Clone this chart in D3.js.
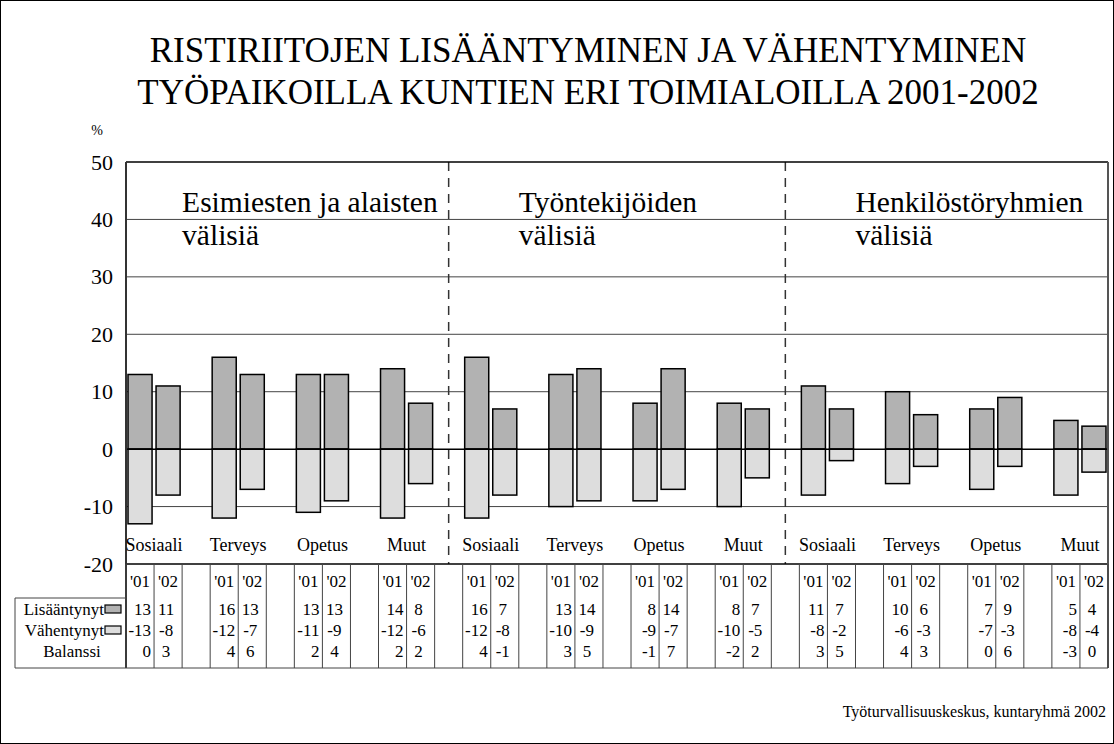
<!DOCTYPE html>
<html>
<head>
<meta charset="utf-8">
<script src="https://cdn.jsdelivr.net/npm/d3@7"></script>
<style>
  body { margin: 0; background: #fff; }
  svg text { font-family: "Liberation Serif", "Times New Roman", serif; fill: #000; }
</style>
</head>
<body>
<svg id="chart" width="1114" height="744"></svg>
<script>
// chart data
const title_lines = ["RISTIRIITOJEN LISÄÄNTYMINEN JA VÄHENTYMINEN", "TYÖPAIKOILLA KUNTIEN ERI TOIMIALOILLA 2001-2002"];
const sections = ["Esimiesten ja alaisten", "Työntekijöiden", "Henkilöstöryhmien"];
const section_sub = "välisiä";
const categories = ["Sosiaali", "Terveys", "Opetus", "Muut"];
const years = ["'01", "'02"];
const row_labels = ["Lisääntynyt", "Vähentynyt", "Balanssi"];
const increased = [13, 11, 16, 13, 13, 13, 14, 8, 16, 7, 13, 14, 8, 14, 8, 7, 11, 7, 10, 6, 7, 9, 5, 4];
const decreased = [-13, -8, -12, -7, -11, -9, -12, -6, -12, -8, -10, -9, -9, -7, -10, -5, -8, -2, -6, -3, -7, -3, -8, -4];
const balance = [0, 3, 4, 6, 2, 4, 2, 2, 4, -1, 3, 5, -1, 7, -2, 2, 3, 5, 4, 3, 0, 6, -3, 0];
const y_ticks = [50, 40, 30, 20, 10, 0, -10, -20];
const source = "Työturvallisuuskeskus, kuntaryhmä 2002";

const dark = "#b2b2b2", light = "#dddddd";

const svg = d3.select("svg#chart");
const W = +svg.attr("width"), H = +svg.attr("height");
const plot = { left: 126, right: 1108, top: 162, bottom: 564 };
const table = { left: 15, header: 598, bottom: 668 };

// 12 groups of 3 columns ('01, '02, gap), last gap dropped
const n_groups = sections.length * categories.length;
const n_cols = n_groups * 3 - 1;
const x = d3.scaleLinear().domain([0, n_cols]).range([plot.left, plot.right]);
const y = d3.scaleLinear().domain([-20, 50]).range([plot.bottom, plot.top]);
const col_of = (i) => Math.floor(i / 2) * 3 + (i % 2);

// outer frame
svg.append("rect").attr("x", 0.5).attr("y", 0.5).attr("width", W - 1).attr("height", H - 1)
  .attr("fill", "none").attr("stroke", "#000");

// title
svg.selectAll("text.title").data(title_lines).join("text")
  .attr("class", "title")
  .attr("x", 588).attr("y", (d, i) => 62 + i * 42)
  .attr("text-anchor", "middle").attr("font-size", 35)
  .text(d => d);

svg.append("text").attr("x", 97).attr("y", 135).attr("text-anchor", "middle")
  .attr("font-size", 14).text("%");

// gridlines
svg.append("g").selectAll("line").data(y_ticks.filter(d => d != 0 && d != 50 && d != -20)).join("line")
  .attr("x1", plot.left).attr("x2", plot.right)
  .attr("y1", d => y(d)).attr("y2", d => y(d))
  .attr("stroke", "#444").attr("stroke-width", 1);

// y axis labels
const y_axis = svg.append("g").attr("transform", `translate(${plot.left},0)`)
  .call(d3.axisLeft(y).tickValues(y_ticks).tickFormat(d => String(d)).tickSize(0).tickPadding(13));
y_axis.select(".domain").remove();
y_axis.selectAll("text").attr("font-size", 22);

// section titles
const sec_w = categories.length * 3;
svg.selectAll("text.sec").data(sections).join("text")
  .attr("class", "sec")
  .attr("x", (d, i) => x(i * sec_w + 2)).attr("y", 212)
  .attr("font-size", 29.5).text(d => d);
svg.selectAll("text.sec2").data(sections).join("text")
  .attr("class", "sec2")
  .attr("x", (d, i) => x(i * sec_w + 2)).attr("y", 245)
  .attr("font-size", 29.5).text(section_sub);

// dashed section dividers
svg.selectAll("line.div").data(d3.range(1, sections.length)).join("line")
  .attr("class", "div")
  .attr("x1", d => x(d * sec_w - 0.5)).attr("x2", d => x(d * sec_w - 0.5))
  .attr("y1", plot.top).attr("y2", plot.bottom)
  .attr("stroke", "#333").attr("stroke-width", 1.5).attr("stroke-dasharray", "9,7");

// bars
const bar_g = svg.append("g");
bar_g.selectAll("rect.inc").data(increased).join("rect")
  .attr("class", "inc")
  .attr("x", (d, i) => x(col_of(i)) + 2)
  .attr("width", (d, i) => x(col_of(i) + 1) - x(col_of(i)) - 4)
  .attr("y", d => y(d)).attr("height", d => y(0) - y(d))
  .attr("fill", dark).attr("stroke", "#000").attr("stroke-width", 1.5);
bar_g.selectAll("rect.dec").data(decreased).join("rect")
  .attr("class", "dec")
  .attr("x", (d, i) => x(col_of(i)) + 2)
  .attr("width", (d, i) => x(col_of(i) + 1) - x(col_of(i)) - 4)
  .attr("y", y(0)).attr("height", d => y(d) - y(0))
  .attr("fill", light).attr("stroke", "#000").attr("stroke-width", 1.5);

// zero line and frame
svg.append("line").attr("x1", plot.left).attr("x2", plot.right).attr("y1", y(0)).attr("y2", y(0))
  .attr("stroke", "#000").attr("stroke-width", 1.5);
svg.append("line").attr("x1", plot.left).attr("x2", plot.right).attr("y1", plot.top).attr("y2", plot.top)
  .attr("stroke", "#000").attr("stroke-width", 1.5);
svg.append("line").attr("x1", plot.left).attr("x2", plot.right).attr("y1", plot.bottom).attr("y2", plot.bottom)
  .attr("stroke", "#000").attr("stroke-width", 1.5);
svg.append("line").attr("x1", plot.left).attr("x2", plot.left).attr("y1", plot.top).attr("y2", table.bottom)
  .attr("stroke", "#333").attr("stroke-width", 2);
svg.append("line").attr("x1", plot.right).attr("x2", plot.right).attr("y1", plot.top).attr("y2", table.bottom)
  .attr("stroke", "#555").attr("stroke-width", 2);

// category labels
const cat_data = d3.range(n_groups).map(g => categories[g % categories.length]);
svg.selectAll("text.cat").data(cat_data).join("text")
  .attr("class", "cat")
  .attr("x", (d, g) => x(g * 3 + 1)).attr("y", 551)
  .attr("text-anchor", "middle").attr("font-size", 18).text(d => d);

// data table
const tbl = svg.append("g");
tbl.selectAll("line.col").data(d3.range(0, n_cols + 1)).join("line")
  .attr("class", "col")
  .attr("x1", d => x(d)).attr("x2", d => x(d))
  .attr("y1", plot.bottom).attr("y2", table.bottom)
  .attr("stroke", "#444").attr("stroke-width", 1);
tbl.append("line").attr("x1", table.left).attr("x2", plot.left).attr("y1", table.header).attr("y2", table.header)
  .attr("stroke", "#444");
tbl.append("line").attr("x1", table.left).attr("x2", table.left).attr("y1", table.header).attr("y2", table.bottom)
  .attr("stroke", "#444");
tbl.append("line").attr("x1", table.left).attr("x2", plot.right).attr("y1", table.bottom).attr("y2", table.bottom)
  .attr("stroke", "#444");

const row_y = (r) => 615 + r * 21;

// year headers
tbl.selectAll("text.yr").data(increased).join("text")
  .attr("class", "yr")
  .attr("x", (d, i) => x(col_of(i) + 0.5)).attr("y", 587)
  .attr("text-anchor", "middle").attr("font-size", 17).text((d, i) => years[i % 2]);

// row labels with legend swatches
tbl.selectAll("text.rl").data(row_labels).join("text")
  .attr("class", "rl")
  .attr("x", (d, r) => r < 2 ? 104 : 72).attr("y", (d, r) => row_y(r))
  .attr("text-anchor", (d, r) => r < 2 ? "end" : "middle")
  .attr("font-size", 17).text(d => d);
tbl.selectAll("rect.sw").data([dark, light]).join("rect")
  .attr("class", "sw")
  .attr("x", 105).attr("y", (d, r) => row_y(r) - 10).attr("width", 16).attr("height", 8)
  .attr("fill", d => d).attr("stroke", "#000").attr("stroke-width", 1.2);

// table values
[increased, decreased, balance].forEach((vals, r) => {
  tbl.selectAll("text.v" + r).data(vals).join("text")
    .attr("class", "v" + r)
    .attr("x", (d, i) => i % 2 == 0 ? x(col_of(i) + 1) - 3 : x(col_of(i) + 0.5) - 2)
    .attr("y", row_y(r))
    .attr("text-anchor", (d, i) => i % 2 == 0 ? "end" : "middle")
    .attr("font-size", 17).text(d => d);
});

// source
svg.append("text").attr("x", 1106).attr("y", 717).attr("text-anchor", "end")
  .attr("font-size", 16).text(source);
</script>
</body>
</html>
